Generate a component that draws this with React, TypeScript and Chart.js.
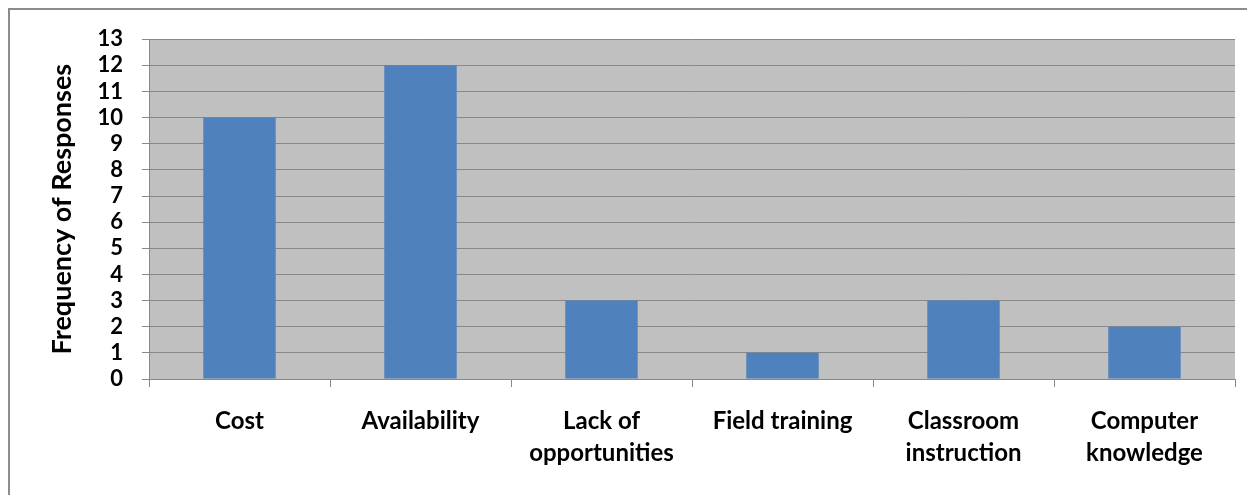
import React, { useEffect, useRef } from "react";
import { Chart, registerables } from "chart.js";

Chart.register(...registerables);

const categories: (string | string[])[] = [
  "Cost",
  "Availability",
  ["Lack of", "opportunities"],
  "Field training",
  ["Classroom", "instruction"],
  ["Computer", "knowledge"],
];
const responses: number[] = [10, 12, 3, 1, 3, 2];
const yTitle = "Frequency of Responses";

const FONT = "Lato, 'Open Sans', sans-serif";
const GRID = "#888888";

const plotBg = {
  id: "plotBg",
  beforeDraw(chart: any) {
    const { ctx, chartArea } = chart;
    ctx.save();
    ctx.fillStyle = "#c0c0c0";
    ctx.fillRect(chartArea.left, chartArea.top, chartArea.right - chartArea.left, chartArea.bottom - chartArea.top);
    ctx.restore();
  },
};

export default function App() {
  const ref = useRef<HTMLCanvasElement | null>(null);
  useEffect(() => {
    if (!ref.current) return;
    const chart = new Chart(ref.current, {
      type: "bar",
      data: {
        labels: categories,
        datasets: [
          {
            data: responses,
            backgroundColor: "#4f81bd",
            borderWidth: 0,
            categoryPercentage: 1,
            barPercentage: 0.4,
          },
        ],
      },
      plugins: [plotBg],
      options: {
        animation: false,
        responsive: false,
        devicePixelRatio: 1,
        layout: { padding: { left: 0, right: 20, top: 0, bottom: 0 } },
        plugins: {
          legend: { display: false },
          tooltip: { enabled: false },
        },
        scales: {
          x: {
            offset: true,
            grid: {
              offset: true,
              drawOnChartArea: false,
              drawTicks: true,
              tickLength: 8,
              color: GRID,
            },
            border: { display: true, color: GRID, width: 1 },
            ticks: {
              color: "#000",
              font: { family: FONT, size: 24, weight: "bold", lineHeight: 1.333 },
              padding: 18,
              maxRotation: 0,
              autoSkip: false,
            },
            afterFit(scale: any) {
              scale.height = 116;
            },
          },
          y: {
            min: 0,
            max: 13,
            afterBuildTicks(scale: any) {
              scale.ticks = Array.from({ length: 14 }, (_, i) => ({ value: i }));
            },
            ticks: {
              stepSize: 1,
              autoSkip: false,
              color: "#000",
              font: { family: FONT, size: 22, weight: "bold" },
              padding: 19,
            },
            grid: {
              color: GRID,
              tickLength: 7,
              lineWidth: 1,
            },
            border: { display: true, color: GRID, width: 1 },
            title: {
              display: true,
              text: yTitle,
              color: "#000",
              font: { family: FONT, size: 27, weight: "bold" },
              padding: { top: 36, bottom: 0 },
            },
            afterFit(scale: any) {
              scale.width = 139;
            },
          },
        },
      },
    } as any);
    return () => chart.destroy();
  }, []);
  return (
    <div
      style={{
        width: 1247,
        height: 487,
        boxSizing: "border-box",
        borderTop: "2px solid #8c8c8c",
        borderLeft: "2px solid #8c8c8c",
        overflow: "hidden",
        background: "#fff",
      }}
    >
      <canvas
        ref={ref}
        width={1245}
        height={488}
        style={{ display: "block", width: 1245, height: 488, marginTop: -3 }}
      />
    </div>
  );
}
